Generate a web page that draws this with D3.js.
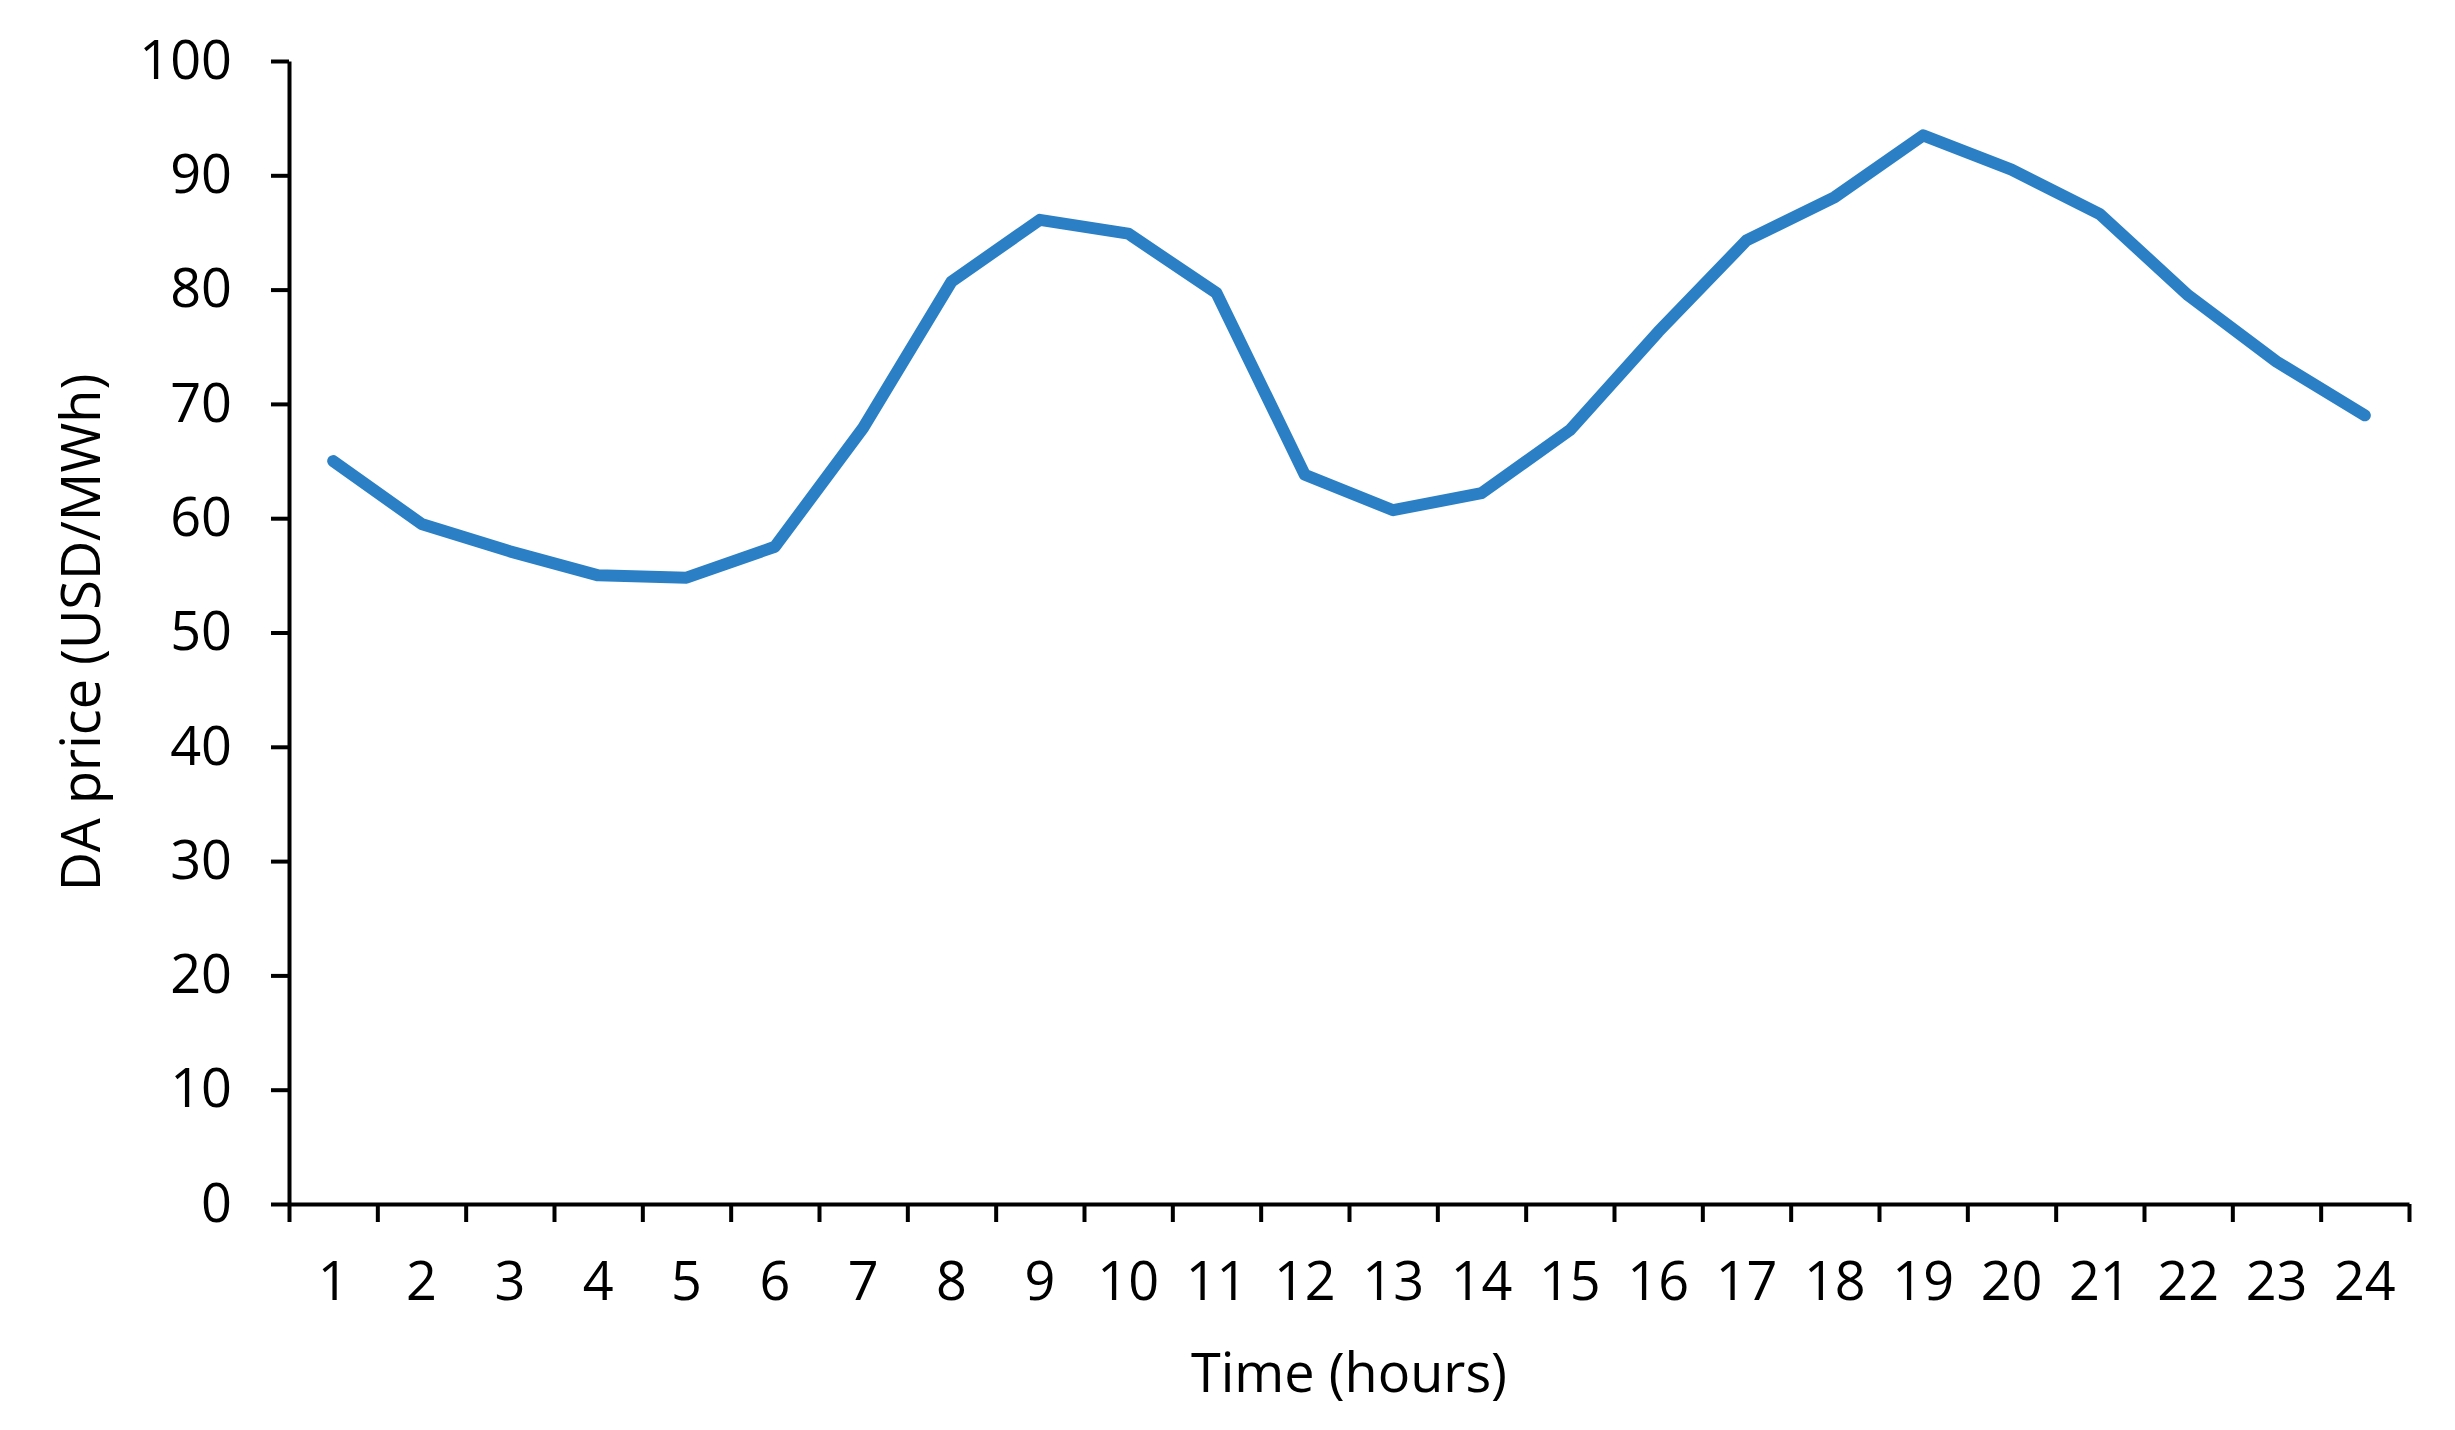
<!DOCTYPE html>
<html>
<head>
<meta charset="utf-8">
<script src="https://cdn.jsdelivr.net/npm/d3@7"></script>
<style>
  body { margin: 0; background: #fff; }
  svg { display: block; }
  .axis text { font-family: "Open Sans", sans-serif; font-size: 54px; fill: #000; }
  .axis path, .axis line { stroke: #000; stroke-width: 4px; }
</style>
</head>
<body>
<svg id="chart" width="2455" height="1430"></svg>
<script>
// hourly day-ahead price
var hours = d3.range(1, 25);
var prices = [65.0, 59.5, 57.1, 55.0, 54.8, 57.5, 67.9, 80.7, 86.1, 84.9, 79.7, 63.8,
              60.7, 62.2, 67.7, 76.3, 84.3, 88.1, 93.5, 90.5, 86.6, 79.5, 73.7, 69.0];
var yTicks = d3.range(0, 101, 10);
var xTitle = "Time (hours)";
var yTitle = "DA price (USD/MWh)";

var plotLeft = 289, plotRight = 2409, plotTop = 61, plotBottom = 1204;
var svg = d3.select("#chart");

var x = d3.scaleBand().domain(hours).range([plotLeft, plotRight]).padding(0);
var xEdge = d3.scaleLinear().domain([0, hours.length]).range([plotLeft, plotRight]);
var y = d3.scaleLinear().domain([0, 100]).range([plotBottom, plotTop]);

// x axis: line + ticks between categories
svg.append("g")
    .attr("class", "axis")
    .attr("transform", "translate(0," + plotBottom + ")")
    .call(d3.axisBottom(xEdge).tickValues(d3.range(0, hours.length + 1))
        .tickFormat("").tickSize(18).tickSizeOuter(0));

// x labels at category centres
var xl = svg.append("g")
    .attr("class", "axis")
    .attr("transform", "translate(0," + plotBottom + ")")
    .call(d3.axisBottom(x).tickSize(0).tickPadding(58));
xl.select(".domain").remove();

// y axis
svg.append("g")
    .attr("class", "axis")
    .attr("transform", "translate(" + plotLeft + ",0)")
    .call(d3.axisLeft(y).tickValues(yTicks).tickSize(18).tickSizeOuter(0).tickPadding(39));

// line
var line = d3.line()
    .x(function (d, i) { return x(hours[i]) + x.bandwidth() / 2; })
    .y(function (d) { return y(d); });

svg.append("path")
    .datum(prices)
    .attr("d", line)
    .attr("fill", "none")
    .attr("stroke", "#2b80c5")
    .attr("stroke-width", 12)
    .attr("stroke-linejoin", "round")
    .attr("stroke-linecap", "round");

// axis titles
svg.append("text")
    .attr("x", (plotLeft + plotRight) / 2)
    .attr("y", 1392)
    .attr("text-anchor", "middle")
    .style("font-family", "'Open Sans', sans-serif")
    .style("font-size", "54px")
    .text(xTitle);

svg.append("text")
    .attr("transform", "translate(100," + ((plotTop + plotBottom) / 2) + ") rotate(-90)")
    .attr("text-anchor", "middle")
    .style("font-family", "'Open Sans', sans-serif")
    .style("font-size", "54px")
    .text(yTitle);
</script>
</body>
</html>
